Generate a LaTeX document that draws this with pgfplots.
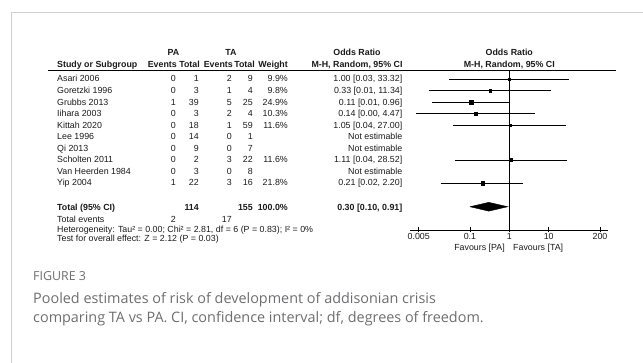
\documentclass[border=0pt]{standalone}
\usepackage{pgfplots}
\pgfplotsset{compat=1.18}
\usepackage{fontspec}
\setmainfont{Liberation Sans}
\newfontfamily\capfont{Open Sans}
\definecolor{capgray}{HTML}{6D6E71}
\definecolor{framegray}{HTML}{CFCFCF}
\definecolor{txt}{HTML}{1A1A1A}
\newcommand\fs{\fontsize{8.85}{10}\selectfont}
\newcommand\fsb{\fontsize{8.85}{10}\selectfont\bfseries}
% row: ycenter(px) name pe pt te tt weight or
\newcommand\row[8]{%
 \node[anchor=base west,inner sep=0,txt] at (57,{360-#1}) {\fs #2};
 \node[anchor=base east,inner sep=0,txt] at (176,{360-#1}) {\fs #3};
 \node[anchor=base east,inner sep=0,txt] at (199,{360-#1}) {\fs #4};
 \node[anchor=base east,inner sep=0,txt] at (232,{360-#1}) {\fs #5};
 \node[anchor=base east,inner sep=0,txt] at (253,{360-#1}) {\fs #6};
 \node[anchor=base east,inner sep=0,txt] at (288,{360-#1}) {\fs #7};
 \node[anchor=base east,inner sep=0,txt] at (402.5,{360-#1}) {\fs #8};
}
\begin{document}
\begin{tikzpicture}[x=1pt,y=1pt]
\useasboundingbox (0,0) rectangle (643,363);
\draw[framegray, line width=0.9pt] (11,0) -- (11,351) -- (643,351);
% headers
\node[anchor=base,inner sep=0,txt] at (173.5,{360-53}) {\fsb PA};
\node[anchor=base,inner sep=0,txt] at (231,{360-53}) {\fsb TA};
\node[anchor=base west,inner sep=0,txt] at (57,{360-65}) {\fsb Study or Subgroup};
\node[anchor=base east,inner sep=0,txt] at (177,{360-65}) {\fsb Events};
\node[anchor=base east,inner sep=0,txt] at (200,{360-65}) {\fsb Total};
\node[anchor=base east,inner sep=0,txt] at (233,{360-65}) {\fsb Events};
\node[anchor=base east,inner sep=0,txt] at (255,{360-65}) {\fsb Total};
\node[anchor=base east,inner sep=0,txt] at (288,{360-65}) {\fsb Weight};
\node[anchor=base,inner sep=0,txt] at (357,{360-53}) {\fsb Odds Ratio};
\node[anchor=base,inner sep=0,txt] at (357,{360-65}) {\fsb M-H, Random, 95\% CI};
\node[anchor=base,inner sep=0,txt] at (509.3,{360-53}) {\fsb Odds Ratio};
\node[anchor=base,inner sep=0,txt] at (509.3,{360-65}) {\fsb M-H, Random, 95\% CI};
\draw[black, line width=0.8pt] (48,{363-70}) -- (616,{363-70});
% study rows
\row{79}{Asari 2006}{0}{1}{2}{9}{9.9\%}{1.00 [0.03, 33.32]}
\row{90.6}{Goretzki 1996}{0}{3}{1}{4}{9.8\%}{0.33 [0.01, 11.34]}
\row{102.1}{Grubbs 2013}{1}{39}{5}{25}{24.9\%}{0.11 [0.01, 0.96]}
\row{113.7}{Iihara 2003}{0}{3}{2}{4}{10.3\%}{0.14 [0.00, 4.47]}
\row{125.2}{Kittah 2020}{0}{18}{1}{59}{11.6\%}{1.05 [0.04, 27.00]}
\row{136.8}{Lee 1996}{0}{14}{0}{1}{}{Not estimable}
\row{148.4}{Qi 2013}{0}{9}{0}{7}{}{Not estimable}
\row{159.9}{Scholten 2011}{0}{2}{3}{22}{11.6\%}{1.11 [0.04, 28.52]}
\row{171.5}{Van Heerden 1984}{0}{3}{0}{8}{}{Not estimable}
\row{183.0}{Yip 2004}{1}{22}{3}{16}{21.8\%}{0.21 [0.02, 2.20]}
% total
\node[anchor=base west,inner sep=0,txt] at (57,{360-207.5}) {\fsb Total (95\% CI)};
\node[anchor=base east,inner sep=0,txt] at (199,{360-207.5}) {\fsb 114};
\node[anchor=base east,inner sep=0,txt] at (253,{360-207.5}) {\fsb 155};
\node[anchor=base east,inner sep=0,txt] at (288,{360-207.5}) {\fsb 100.0\%};
\node[anchor=base east,inner sep=0,txt] at (402.5,{360-207.5}) {\fsb 0.30 [0.10, 0.91]};
\node[anchor=base west,inner sep=0,txt] at (57,{360-219.5}) {\fs Total events};
\node[anchor=base east,inner sep=0,txt] at (176,{360-219.5}) {\fs 2};
\node[anchor=base east,inner sep=0,txt] at (232,{360-219.5}) {\fs 17};
\node[anchor=base west,inner sep=0,txt] at (57,{360-229.3}) {\fs Heterogeneity: Tau² = 0.00; Chi² = 2.81, df = 6 (P = 0.83); I² = 0\%};
\node[anchor=base west,inner sep=0,txt] at (57,{360-238.3}) {\fs Test for overall effect: Z = 2.12 (P = 0.03)};
% forest axis
\begin{axis}[
  at={(410pt,133pt)}, anchor=south west,
  scale only axis, width=198pt, height=160pt,
  xmode=log, xmin=0.0030, xmax=320,
  ymin=-13.062, ymax=0.7785,
  axis x line*=bottom, hide y axis,
  axis line style={black, line width=0.8pt},
  xtick={0.005,0.1,1,10,200},
  xticklabels={0.005,0.1,1,10,200},
  minor xtick={}, log basis x=10,
  tick align=center, major tick length=5pt,
  tick style={black, line width=0.8pt},
  ticklabel style={font=\fs, text=txt, inner sep=1pt},
  /pgf/number format/assume math mode=true,
  clip=false,
]
\addplot[black, line width=0.8pt] coordinates {(1,-13.062) (1,0.7785)};
% confidence intervals
\addplot[black, line width=0.8pt] coordinates {(0.03,0) (33.32,0)};
\addplot[black, line width=0.8pt] coordinates {(0.009,-1) (11.34,-1)};
\addplot[black, line width=0.8pt] coordinates {(0.011,-2) (0.96,-2)};
\addplot[black, line width=0.8pt] coordinates {(0.0042,-3) (4.47,-3)};
\addplot[black, line width=0.8pt] coordinates {(0.038,-4) (27.00,-4)};
\addplot[black, line width=0.8pt] coordinates {(0.041,-7) (28.52,-7)};
\addplot[black, line width=0.8pt] coordinates {(0.018,-9) (2.20,-9)};
% point estimates
\addplot[only marks, mark=square*, mark size=1.2pt, black] coordinates {(1.00,0)};
\addplot[only marks, mark=square*, mark size=1.2pt, black] coordinates {(0.33,-1)};
\addplot[only marks, mark=square*, mark size=2.0pt, black] coordinates {(0.11,-2)};
\addplot[only marks, mark=square*, mark size=1.25pt, black] coordinates {(0.14,-3)};
\addplot[only marks, mark=square*, mark size=1.3pt, black] coordinates {(1.05,-4)};
\addplot[only marks, mark=square*, mark size=1.3pt, black] coordinates {(1.11,-7)};
\addplot[only marks, mark=square*, mark size=1.8pt, black] coordinates {(0.21,-9)};
% pooled diamond
\addplot[fill=black, draw=black] coordinates {(0.10,-11.05) (0.30,-10.67) (0.91,-11.05) (0.30,-11.43) (0.10,-11.05)};
\end{axis}
\node[anchor=base east,inner sep=0,txt] at (505,{360-248}) {\fs Favours [PA]};
\node[anchor=base west,inner sep=0,txt] at (513,{360-248}) {\fs Favours [TA]};
% caption
\node[anchor=base west,inner sep=0,text=capgray] at (33,{363-281}) {\capfont\fontsize{12.4}{14}\selectfont FIGURE 3};
\node[anchor=base west,inner sep=0,text=capgray] at (33,{363-304}) {\capfont\fontsize{14.4}{16}\selectfont Pooled estimates of risk of development of addisonian crisis};
\node[anchor=base west,inner sep=0,text=capgray] at (33,{363-323}) {\capfont\fontsize{14.4}{16}\selectfont comparing TA vs PA. CI, confidence interval; df, degrees of freedom.};
\end{tikzpicture}
\end{document}
